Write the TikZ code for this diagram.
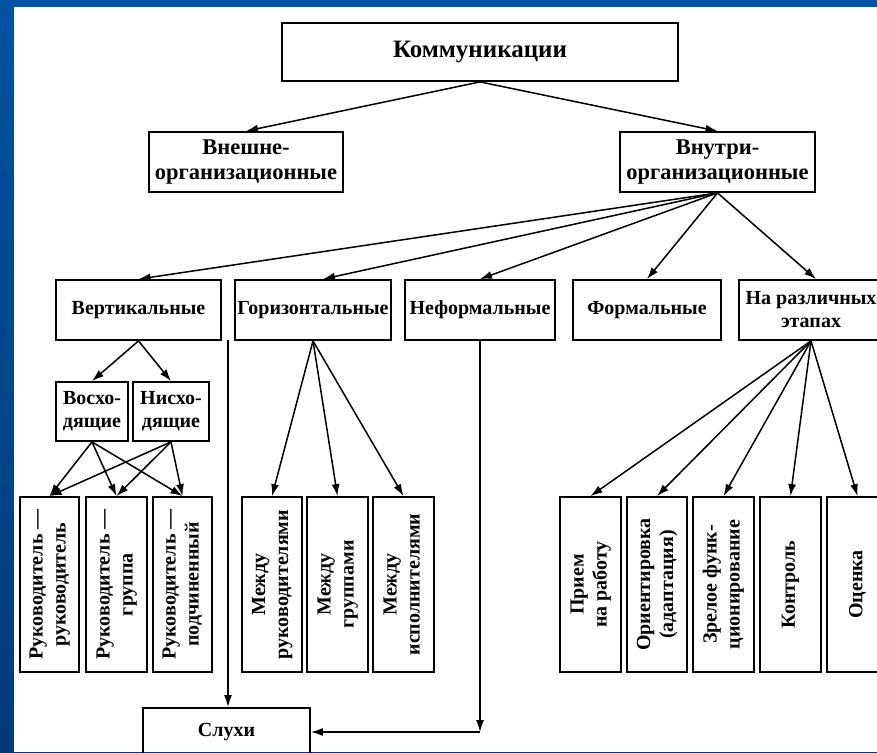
\documentclass[tikz,border=0pt]{standalone}
\usepackage{fontspec}
\setmainfont{Liberation Serif}
\usepackage{graphicx}
\usepackage{xcolor}
\usetikzlibrary{arrows.meta}
\definecolor{slidetop}{RGB}{0,82,162}
\definecolor{slidebot}{RGB}{0,58,120}

\begin{document}
\begin{tikzpicture}[x=1pt,y=-1pt,
  box/.style={draw,line width=1.8pt,inner sep=0pt,align=center,font=\bfseries\fontsize{20}{23}\selectfont},
  arr/.style={-{Latex[length=12pt,width=8pt]},line width=1.5pt}]
\useasboundingbox (0,0) rectangle (877,752);
\shade[top color=slidetop,bottom color=slidebot] (0,0) rectangle (877,752);
\fill[white] (14,7) rectangle (877,752);
\clip (14,7) rectangle (877,752);

\node[box,minimum width=396,minimum height=58,font=\bfseries\fontsize{25}{30}\selectfont] (komm) at (480,52) {Коммуникации};

\node[box,minimum width=194,minimum height=60,font=\bfseries\fontsize{22.5}{25}\selectfont] (vnesh) at (246,162) {Внешне-\\организационные};
\node[box,minimum width=195,minimum height=60,font=\bfseries\fontsize{22.5}{25}\selectfont] (vnutr) at (717.5,162) {Внутри-\\организационные};

\draw[arr] (komm.south) -- (vnesh.north);
\draw[arr] (komm.south) -- (vnutr.north);

\node[box,minimum width=165,minimum height=60] (vert) at (138.5,310) {Вертикальные};
\node[box,minimum width=156,minimum height=60] (goriz) at (313,310) {Горизонтальные};
\node[box,minimum width=150,minimum height=60] (neform) at (480,310) {Неформальные};
\node[box,minimum width=148,minimum height=60] (form) at (647,310) {Формальные};
\node[box,minimum width=144,minimum height=60] (etap) at (811,310) {На различных\\этапах};

\draw[arr] (vnutr.south) -- (vert.north);
\draw[arr] (vnutr.south) -- ([xshift=10]goriz.north);
\draw[arr] (vnutr.south) -- (neform.north);
\draw[arr] (vnutr.south) -- (form.north);
\draw[arr] (vnutr.south) -- ([xshift=5]etap.north);

\node[box,minimum width=72,minimum height=59] (vosh) at (92,411.5) {Восхо-\\дящие};
\node[box,minimum width=76,minimum height=59] (nish) at (171,411.5) {Нисхо-\\дящие};

\draw[arr] (vert.south) -- (vosh.north);
\draw[arr] (vert.south) -- (nish.north);

\node[box,minimum width=59,minimum height=175] (rr) at (49.5,584.5) {\rotatebox{90}{\begin{tabular}{@{}c@{}}Руководитель —\\руководитель\end{tabular}}};
\node[box,minimum width=61,minimum height=175] (rg) at (116.5,584.5) {\rotatebox{90}{\begin{tabular}{@{}c@{}}Руководитель —\\группа\end{tabular}}};
\node[box,minimum width=59,minimum height=175] (rp) at (182.5,584.5) {\rotatebox{90}{\begin{tabular}{@{}c@{}}Руководитель —\\подчиненный\end{tabular}}};

\draw[arr] (vosh.south) -- (rr.north);
\draw[arr] (vosh.south) -- (rg.north);
\draw[arr] (vosh.south) -- (rp.north);
\draw[arr] (nish.south) -- (rr.north);
\draw[arr] (nish.south) -- (rg.north);
\draw[arr] (nish.south) -- (rp.north);

\node[box,minimum width=60,minimum height=175] (mr) at (272,584.5) {\rotatebox{90}{\begin{tabular}{@{}c@{}}Между\\руководителями\end{tabular}}};
\node[box,minimum width=61,minimum height=175] (mg) at (337.5,584.5) {\rotatebox{90}{\begin{tabular}{@{}c@{}}Между\\группами\end{tabular}}};
\node[box,minimum width=61,minimum height=175] (mi) at (403.5,584.5) {\rotatebox{90}{\begin{tabular}{@{}c@{}}Между\\исполнителями\end{tabular}}};

\draw[arr] (goriz.south) -- (mr.north);
\draw[arr] (goriz.south) -- (mg.north);
\draw[arr] (goriz.south) -- (mi.north);

\node[box,minimum width=61,minimum height=175] (priem) at (590.5,584.5) {\rotatebox{90}{\begin{tabular}{@{}c@{}}Прием\\на работу\end{tabular}}};
\node[box,minimum width=60,minimum height=175] (orient) at (657,584.5) {\rotatebox{90}{\begin{tabular}{@{}c@{}}Ориентировка\\(адаптация)\end{tabular}}};
\node[box,minimum width=61,minimum height=175] (zrel) at (723.5,584.5) {\rotatebox{90}{\begin{tabular}{@{}c@{}}Зрелое функ-\\ционирование\end{tabular}}};
\node[box,minimum width=61,minimum height=175] (kontr) at (790.5,584.5) {\rotatebox{90}{Контроль}};
\node[box,minimum width=61,minimum height=175] (ocen) at (857.5,584.5) {\rotatebox{90}{Оценка}};

\draw[arr] (etap.south) -- (priem.north);
\draw[arr] (etap.south) -- (orient.north);
\draw[arr] (etap.south) -- (zrel.north);
\draw[arr] (etap.south) -- (kontr.north);
\draw[arr] (etap.south) -- (ocen.north);

\node[box,minimum width=167,minimum height=48] (sluhi) at (226.5,732) {Слухи};

\coordinate (razv) at (228,340);
\draw[arr] (razv) -- (razv |- sluhi.north);
\coordinate (ugol) at (neform.south |- sluhi.east);
\draw[arr] (neform.south) -- (ugol);
\draw[arr] (ugol) -- (sluhi.east);
\end{tikzpicture}
\end{document}
